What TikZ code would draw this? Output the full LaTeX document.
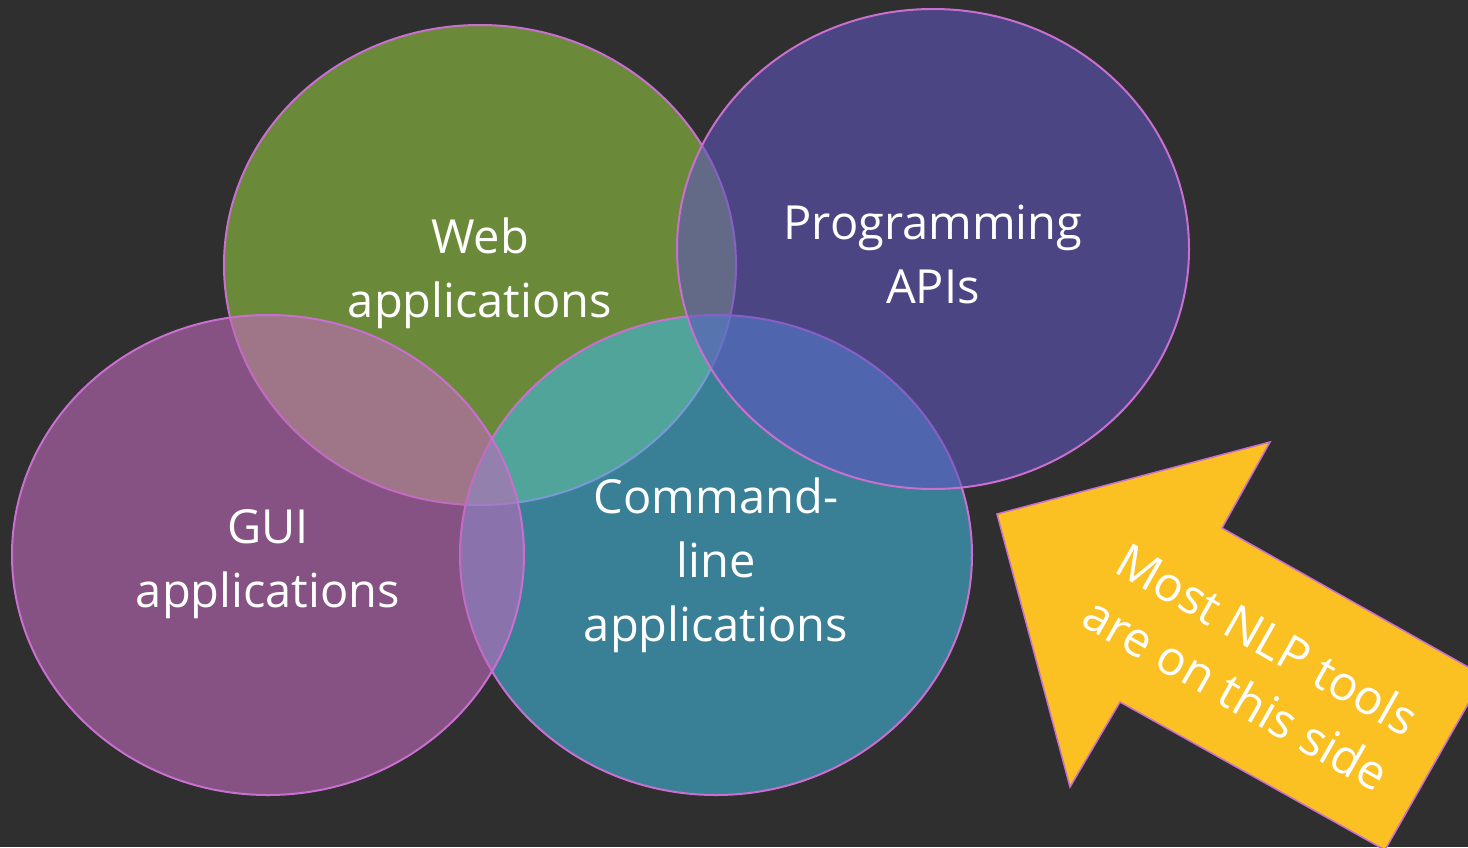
\documentclass[tikz,border=0pt]{standalone}
\usepackage{fontspec}
\setmainfont{Open Sans}
\usetikzlibrary{shapes.geometric}
\definecolor{bg}{HTML}{2F2F2F}
\definecolor{rim}{HTML}{C86FD0}
\definecolor{webgreen}{RGB}{147,199,65}
\definecolor{guipurple}{RGB}{192,105,187}
\definecolor{cmdteal}{RGB}{65,182,219}
\definecolor{apiblue}{RGB}{94,85,190}
\definecolor{arrowyellow}{HTML}{FBC022}

\begin{document}
\begin{tikzpicture}[x=1pt, y=-1pt,
  set/.style={ellipse, draw=rim, line width=2pt, fill opacity=0.6,
    minimum width=512pt, minimum height=480pt, inner sep=0pt},
  settext/.style={text=white, align=center, font=\fontsize{47}{64}\selectfont}]
	\useasboundingbox (0, 0) rectangle (1468, 847);
	\clip (0, 0) rectangle (1468, 847);
	\fill[bg] (0, 0) rectangle (1468, 847);
	% the four sets, later ones lie on top
	\node[set, fill=webgreen] (web) at (480, 265) {};
	\node[set, fill=cmdteal] (cmd) at (716, 555) {};
	\node[set, fill=guipurple] (gui) at (268, 555) {};
	\node[set, fill=apiblue] (api) at (933, 249) {};
	\node[settext] (webtext) at ([yshift=-8pt]web) {Web\\applications};
	\node[settext] (apitext) at ([yshift=-5pt]api) {Programming\\APIs};
	\node[settext] (guitext) at ([yshift=-9pt]gui) {GUI\\applications};
	\node[settext] (cmdtext) at ([yshift=-10pt]cmd) {Command-\\line\\applications};
	% arrow pointing back at the sets
	\draw[draw=rim, fill=arrowyellow, line width=1.5pt]
	  (997, 514) -- (1270, 442) -- (1222, 528) -- (1484, 676)
	  -- (1385, 850) -- (1120, 702) -- (1070, 787) -- cycle;
	\node[settext, font=\fontsize{48}{63}\selectfont, rotate=-29.6] (note)
	  at (1252, 666) {Most NLP tools\\are on this side};
\end{tikzpicture}
\end{document}
